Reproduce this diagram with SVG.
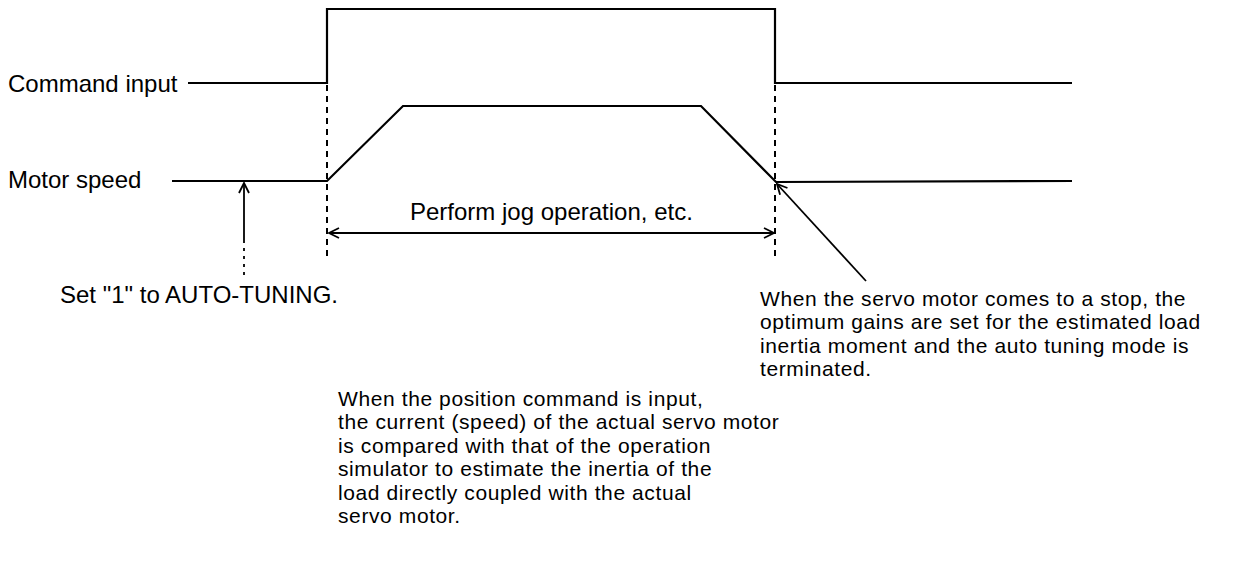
<svg xmlns="http://www.w3.org/2000/svg" width="1243" height="579" viewBox="0 0 1243 579">
<style>
text{font-family:"Liberation Sans",Arial,sans-serif;font-size:24px;fill:#000}
.note{font-size:21px;letter-spacing:0.6px}
.wave{fill:none;stroke:#000;stroke-width:2.2;stroke-linejoin:miter}
.dash{fill:none;stroke:#000;stroke-width:2;stroke-dasharray:6 5}
.thin{fill:none;stroke:#000;stroke-width:1.8}
</style>
<defs>
<marker id="open" viewBox="0 0 12 12" refX="11" refY="6" markerWidth="12" markerHeight="12" markerUnits="userSpaceOnUse" orient="auto-start-reverse">
<path d="M1,1 L11,6 L1,11" fill="none" stroke="#000" stroke-width="1.8"/>
</marker>
</defs>
<rect width="1243" height="579" fill="#fff"/>
<g id="labels">
<text x="8" y="92">Command input</text>
<text x="8" y="188">Motor speed</text>
</g>
<g id="command-input">
<polyline class="wave" points="188,83 327,83 327,9 775,9 775,83 1072,83"/>
</g>
<g id="motor-speed">
<polyline class="wave" points="172,181 327,181 403,106 701,106 776,182 1072,181"/>
</g>
<g id="connectors">
<line class="dash" x1="327" y1="85" x2="327" y2="256"/>
<line class="dash" x1="775" y1="85" x2="775" y2="256"/>
<line class="thin" x1="244" y1="240" x2="244" y2="183" marker-end="url(#open)"/>
<line class="thin" x1="244" y1="240" x2="244" y2="278" stroke-dasharray="3 5"/>
<line class="thin" x1="329" y1="233" x2="774" y2="233" marker-start="url(#open)" marker-end="url(#open)"/>
<line class="thin" x1="866" y1="281" x2="777" y2="184" marker-end="url(#open)"/>
</g>
<g id="jog-label">
<text x="410" y="220">Perform jog operation, etc.</text>
</g>
<g id="set-label">
<text x="60" y="303">Set "1" to AUTO-TUNING.</text>
</g>
<g id="stop-note">
<text class="note" x="760" y="306">When the servo motor comes to a stop, the</text>
<text class="note" x="760" y="329.4">optimum gains are set for the estimated load</text>
<text class="note" x="760" y="352.8">inertia moment and the auto tuning mode is</text>
<text class="note" x="760" y="376.2">terminated.</text>
</g>
<g id="input-note">
<text class="note" x="338" y="406">When the position command is input,</text>
<text class="note" x="338" y="429.4">the current (speed) of the actual servo motor</text>
<text class="note" x="338" y="452.8">is compared with that of the operation</text>
<text class="note" x="338" y="476.2">simulator to estimate the inertia of the</text>
<text class="note" x="338" y="499.6">load directly coupled with the actual</text>
<text class="note" x="338" y="523">servo motor.</text>
</g>
</svg>
